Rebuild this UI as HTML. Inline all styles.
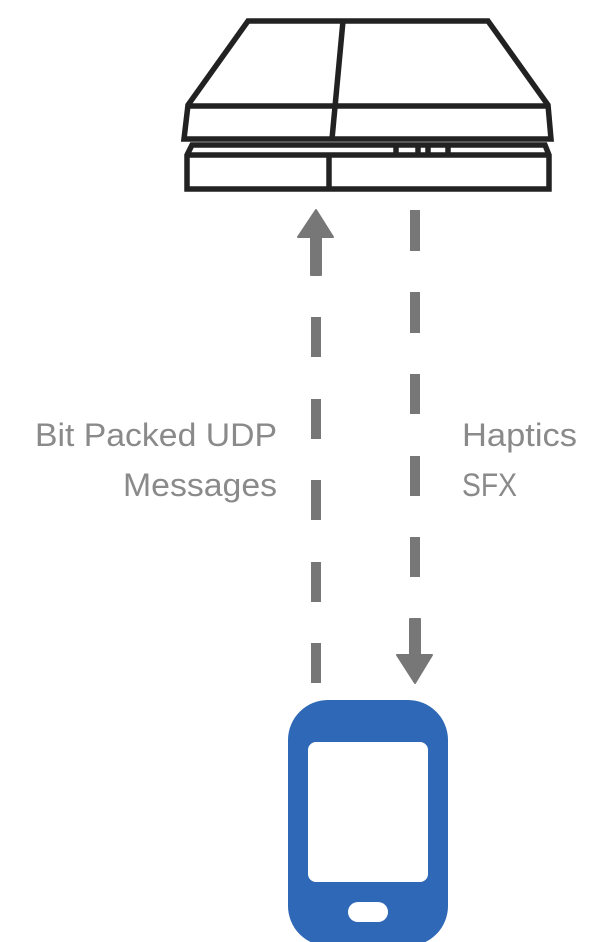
<!DOCTYPE html>
<html><head><meta charset="utf-8"><style>
html,body{margin:0;padding:0;background:#fff;}
svg{display:block;}
text{font-family:"Liberation Sans",sans-serif;font-size:32px;fill:#8a8a8a;}
</style></head><body>
<svg width="597" height="942" viewBox="0 0 597 942" xmlns="http://www.w3.org/2000/svg">
<g fill="none" stroke="#222" stroke-width="5.5" stroke-linejoin="miter">
  <path d="M248,21 L488,21 L548,105 L551,139 L184,139 L188,105 Z"/>
  <line x1="188" y1="106" x2="548" y2="106"/>
  <line x1="343" y1="21" x2="332" y2="139"/>
  <path d="M192,145 L545,145 L549,155 L549,189 L187,189 L187,155 Z"/>
  <line x1="187" y1="155" x2="549" y2="155"/>
  <line x1="329" y1="155" x2="329" y2="189"/>
  <line x1="396" y1="145" x2="396" y2="155"/>
  <line x1="418" y1="145" x2="418" y2="155"/>
  <line x1="428" y1="145" x2="428" y2="155"/>
  <line x1="448" y1="145" x2="448" y2="155"/>
</g>
<g fill="#777">
  <path d="M316,210 L333,237 L321,237 L321,275 L311,275 L311,237 L298,237 Z" stroke="#777" stroke-width="2" stroke-linejoin="round"/>
  <rect x="311" y="317" width="10" height="40"/>
  <rect x="311" y="399" width="10" height="40"/>
  <rect x="311" y="480" width="10" height="40"/>
  <rect x="311" y="562" width="10" height="40"/>
  <rect x="311" y="643" width="10" height="40"/>
  <rect x="410" y="210" width="10" height="41"/>
  <rect x="410" y="292" width="10" height="41"/>
  <rect x="410" y="374" width="10" height="40"/>
  <rect x="410" y="456" width="10" height="40"/>
  <rect x="410" y="537" width="10" height="40"/>
  <path d="M410,619 L420,619 L420,655 L432,655 L415,683 L397,655 L410,655 Z" stroke="#777" stroke-width="2" stroke-linejoin="round"/>
</g>
<text x="35" y="446" textLength="242" lengthAdjust="spacingAndGlyphs">Bit Packed UDP</text>
<text x="123" y="496" textLength="154" lengthAdjust="spacingAndGlyphs">Messages</text>
<text x="462" y="446" textLength="115" lengthAdjust="spacingAndGlyphs">Haptics</text>
<text x="462" y="496" textLength="55" lengthAdjust="spacingAndGlyphs">SFX</text>
<rect x="288" y="700" width="160" height="246" rx="40" fill="#2e68b7"/>
<rect x="308" y="742" width="120" height="140" rx="8" fill="#fff"/>
<rect x="348" y="902" width="40" height="20" rx="10" fill="#fff"/>
</svg>
</body></html>
